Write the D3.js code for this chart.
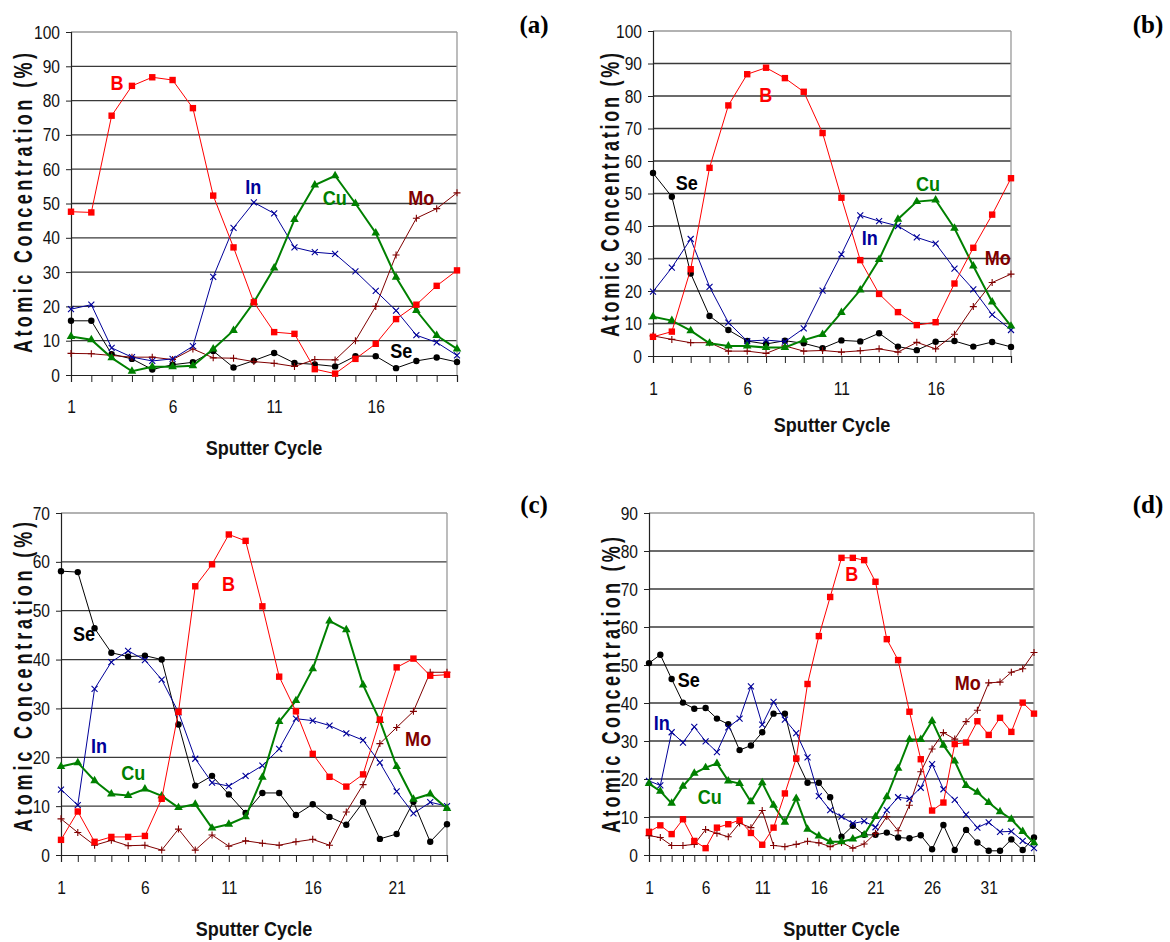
<!DOCTYPE html>
<html>
<head>
<meta charset="utf-8">
<script src="https://cdn.jsdelivr.net/npm/d3@7"></script>
<style>
  body { margin: 0; background: #fff; }
  svg { display: block; }
  .tick-label { font-family: "Liberation Sans", Arial, sans-serif; font-size: 19px; fill: #111; }
  .axis-title { font-family: "Liberation Sans", Arial, sans-serif; font-weight: bold; font-size: 21px; fill: #111; }
  .el-label { font-family: "Liberation Sans", Arial, sans-serif; font-weight: bold; font-size: 21px; }
  .panel-tag { font-family: "Liberation Serif", "Times New Roman", serif; font-weight: bold; font-size: 25px; }
</style>
</head>
<body>
<div id="chart"></div>
<script>
// ---- data (atomic %) per sputter cycle ----
// panel (a)
const a_B  = [47.6,47.4,75.6,84.3,86.8,86.0,77.8,52.3,37.2,21.2,12.5,12.0,1.7,0.4,4.7,9.1,16.3,20.5,26.0,30.5];
const a_In = [19.2,20.5,7.9,5.2,4.1,4.7,8.4,28.6,42.9,50.3,47.1,37.2,35.8,35.3,30.2,24.5,18.8,11.6,9.5,5.7];
const a_Cu = [11.2,10.3,5.0,1.1,2.4,2.4,2.7,7.6,13.0,21.2,31.2,45.3,55.4,58.1,50.0,41.4,28.5,18.8,11.5,7.6];
const a_Se = [15.8,15.8,6.1,4.7,1.6,3.0,3.7,7.0,2.2,4.2,6.4,3.5,3.1,2.5,5.5,5.5,2.0,4.1,5.1,3.8];
const a_Mo = [6.3,6.2,5.7,5.2,5.2,4.5,7.6,5.0,4.9,3.9,3.4,2.5,4.5,4.4,10.0,20.0,35.0,45.7,48.5,53.1];
// panel (b)
const b_B  = [5.9,7.5,26.7,57.9,77.1,86.7,88.7,85.5,81.3,68.6,48.7,29.5,19.1,13.5,9.5,10.4,22.3,33.3,43.5,54.7];
const b_In = [19.8,27.2,36.0,21.3,10.3,4.6,4.9,4.4,8.5,20.1,31.3,43.3,41.5,40.0,36.5,34.6,26.9,20.5,12.7,8.0];
const b_Cu = [12.1,10.9,7.8,3.9,3.1,3.1,2.6,2.6,4.9,6.6,13.4,20.3,29.7,42.1,47.5,48.0,39.3,27.7,16.6,9.2];
const b_Se = [56.3,49.0,25.4,12.3,8.0,4.6,3.7,4.7,3.9,2.4,4.8,4.5,7.0,2.9,1.8,4.4,4.6,2.9,4.3,2.8];
const b_Mo = [6.2,5.1,4.1,4.1,1.5,1.5,0.8,3.1,1.5,1.7,1.2,1.6,2.2,1.2,4.2,2.2,6.7,15.2,22.6,25.2];
// panel (c)
const c_B  = [3.1,8.9,2.7,3.7,3.7,3.9,11.5,29.3,55.0,59.5,65.6,64.3,50.9,36.5,29.4,20.7,16.0,14.0,16.5,27.7,38.4,40.2,36.7,36.9];
const c_In = [13.4,10.2,34.0,39.5,41.8,39.9,35.9,29.2,19.7,14.8,14.1,16.2,18.3,21.7,27.9,27.5,26.5,24.9,23.5,18.9,13.0,8.5,10.8,10.0];
const c_Cu = [18.1,18.9,15.2,12.5,12.2,13.5,12.1,9.7,10.4,5.5,6.3,7.8,15.9,27.3,31.6,38.1,47.9,46.1,34.8,27.5,18.1,11.4,12.5,9.5];
const c_Se = [58.1,57.9,46.4,41.4,40.6,40.8,40.0,26.7,14.2,16.2,12.4,8.6,12.7,12.7,8.2,10.4,7.8,6.2,10.8,3.3,4.3,10.9,2.7,6.3];
const c_Mo = [7.4,4.6,2.0,3.0,1.9,2.0,1.0,5.3,1.0,4.1,1.8,2.9,2.4,2.0,2.7,3.2,2.0,8.8,14.4,22.8,26.1,29.4,37.4,37.4];
// panel (d)
const d_B  = [6.1,7.8,5.5,9.4,3.7,1.8,7.2,8.1,9.2,5.8,2.7,7.2,16.2,25.4,45.0,57.6,67.9,78.2,78.2,77.6,71.9,56.8,51.3,37.7,25.2,11.7,13.8,29.2,29.6,35.2,31.6,36.1,32.4,40.1,37.2];
const d_In = [19.5,18.3,32.3,29.6,33.7,29.9,27.1,33.6,35.9,44.4,34.3,40.3,35.6,32.1,25.7,15.5,11.8,10.1,8.3,8.9,7.3,11.8,15.2,14.8,17.7,23.9,17.3,14.5,10.6,7.2,8.6,6.1,6.2,3.7,1.8];
const d_Cu = [18.8,16.8,13.6,18.1,21.5,23.0,24.1,19.5,18.8,14.0,19.0,13.1,8.6,14.9,6.8,5.0,3.5,3.5,4.2,5.3,10.1,15.3,22.8,30.4,30.4,35.3,28.9,24.7,18.3,16.5,13.8,11.4,9.4,6.2,3.2];
const d_Se = [50.5,52.7,46.3,40.1,38.5,38.7,35.9,34.4,27.6,28.8,32.3,37.2,37.2,25.3,19.0,19.0,15.2,4.8,7.7,5.3,5.3,5.9,4.6,4.4,5.2,1.5,7.9,1.3,6.6,3.3,1.1,1.1,4.1,1.3,4.6];
const d_Mo = [5.1,4.6,2.5,2.5,2.8,6.7,5.7,4.8,8.4,7.2,11.7,2.5,2.2,2.8,3.6,3.2,2.2,3.3,1.8,2.9,5.7,10.1,6.4,13.1,21.9,27.9,32.2,30.5,35.1,38.1,45.3,45.5,48.1,49.0,53.3];

const yMaxA = 100, yMaxB = 100, yMaxC = 70, yMaxD = 90;
const xTickEvery = 5;
const narrow = 0.82;   // fake Arial Narrow

// element styles
const elements = {
  B:  {color: "#ff0000", marker: "square",   width: 1},
  In: {color: "#000099", marker: "x",        width: 1},
  Cu: {color: "#008000", marker: "triangle", width: 2},
  Se: {color: "#000000", marker: "circle",   width: 1},
  Mo: {color: "#800000", marker: "plus",     width: 1}
};

// panels: plot box in pixels, labels in data units [cycle, %]
const panels = [
  {tag: "(a)", tagX: 534, tagY: 25, box: {l: 71, r: 457, t: 32, b: 375}, yMax: yMaxA,
   yTitle: {x: 32, y: 203, len: 300}, tickDy: 25, xTitleDy: 80,
   series: {Se: a_Se, Mo: a_Mo, In: a_In, Cu: a_Cu, B: a_B},
   labels: {B: [3.27, 85.2], In: [9.97, 54.9], Cu: [13.98, 51.7], Mo: [18.24, 51.7], Se: [17.26, 7.1]}},
  {tag: "(b)", tagX: 1148, tagY: 25, box: {l: 653, r: 1011, t: 31, b: 356}, yMax: yMaxB,
   yTitle: {x: 619, y: 195, len: 284}, tickDy: 26, xTitleDy: 76,
   series: {Se: b_Se, Mo: b_Mo, In: b_In, Cu: b_Cu, B: b_B},
   labels: {Se: [2.79, 53.5], B: [6.99, 80.6], Cu: [15.6, 53.2], In: [12.5, 36.6], Mo: [19.3, 30.2]}},
  {tag: "(c)", tagX: 534, tagY: 505, box: {l: 61, r: 447, t: 513, b: 855}, yMax: yMaxC,
   yTitle: {x: 32, y: 677, len: 310}, tickDy: 26, xTitleDy: 81,
   series: {Se: c_Se, Mo: c_Mo, In: c_In, Cu: c_Cu, B: c_B},
   labels: {Se: [2.37, 45.4], In: [3.27, 22.5], Cu: [5.3, 16.8], B: [10.98, 55.6], Mo: [22.28, 23.9]}},
  {tag: "(d)", tagX: 1148, tagY: 505, box: {l: 649, r: 1034, t: 513, b: 855}, yMax: yMaxD,
   yTitle: {x: 620, y: 685, len: 296}, tickDy: 26, xTitleDy: 81,
   series: {Se: d_Se, Mo: d_Mo, In: d_In, Cu: d_Cu, B: d_B},
   labels: {Se: [4.51, 46.1], In: [2.12, 35.0], Cu: [6.36, 15.3], B: [18.9, 74.2], Mo: [29.15, 45.3]}}
];

const svg = d3.select("#chart").append("svg")
  .attr("width", 1170)
  .attr("height", 942);

function drawMarker(g, type, color) {
  if (type === "circle") {
    g.append("circle").attr("r", 3.2).attr("fill", color);
  } else if (type === "square") {
    g.append("rect").attr("x", -3.2).attr("y", -3.2).attr("width", 6.4).attr("height", 6.4).attr("fill", color);
  } else if (type === "triangle") {
    g.append("path").attr("d", d3.symbol(d3.symbolTriangle, 32)()).attr("fill", color);
  } else if (type === "x") {
    g.append("path").attr("d", "M-3,-3L3,3M-3,3L3,-3").attr("stroke", color).attr("stroke-width", 1.1);
  } else if (type === "plus") {
    g.append("path").attr("d", "M-3.5,0L3.5,0M0,-3.5L0,3.5").attr("stroke", color).attr("stroke-width", 1.1);
  }
}

panels.forEach(function(p) {
  const n = p.series.B.length;
  const cycles = d3.range(1, n + 1);

  const x = d3.scaleLinear().domain([1, n]).range([p.box.l, p.box.r]);
  const y = d3.scaleLinear().domain([0, p.yMax]).range([p.box.b, p.box.t]);

  const g = svg.append("g");

  // horizontal gridlines
  const yTicks = d3.range(10, p.yMax + 1, 10);
  g.selectAll(".grid").data(yTicks).enter().append("line")
    .attr("x1", p.box.l).attr("x2", p.box.r)
    .attr("y1", d => y(d)).attr("y2", d => y(d))
    .attr("stroke", d => d === p.yMax ? "#999" : "#3a3a3a")
    .attr("stroke-width", 1.3);

  // right border
  g.append("line")
    .attr("x1", p.box.r).attr("x2", p.box.r)
    .attr("y1", p.box.t).attr("y2", p.box.b)
    .attr("stroke", "#999").attr("stroke-width", 1.3);

  // y axis
  const yAxis = g.append("g")
    .attr("transform", `translate(${p.box.l},0)`)
    .call(d3.axisLeft(y).tickValues(d3.range(0, p.yMax + 1, 10)).tickSize(5).tickPadding(6));
  yAxis.select(".domain").attr("stroke", "#222").attr("stroke-width", 1.2);
  yAxis.selectAll(".tick line").attr("stroke", "#222");
  yAxis.selectAll("text").attr("class", "tick-label").attr("font-family", null).attr("font-size", null)
    .attr("x", -11 / narrow).attr("transform", `scale(${narrow},1)`);

  // x axis: tick at every cycle, label every 5
  const xAxis = g.append("g")
    .attr("transform", `translate(0,${p.box.b})`)
    .call(d3.axisBottom(x).tickValues(cycles).tickSize(7)
      .tickFormat(d => (d - 1) % xTickEvery === 0 ? d : ""));
  xAxis.select(".domain").attr("stroke", "#222").attr("stroke-width", 1.2);
  xAxis.selectAll(".tick line").attr("stroke", "#222");
  xAxis.selectAll("text").attr("class", "tick-label").attr("font-family", null).attr("font-size", null)
    .attr("y", p.tickDy).attr("transform", `scale(${narrow},1)`);

  // series lines + markers
  Object.keys(p.series).forEach(function(key) {
    const st = elements[key];
    const vals = p.series[key];
    const line = d3.line().x((d, i) => x(i + 1)).y(d => y(d));
    g.append("path").datum(vals)
      .attr("fill", "none")
      .attr("stroke", st.color)
      .attr("stroke-width", st.width)
      .attr("d", line);
    g.selectAll(".m-" + key).data(vals).enter().append("g")
      .attr("transform", (d, i) => `translate(${x(i + 1)},${y(d)})`)
      .each(function() { drawMarker(d3.select(this), st.marker, st.color); });
  });

  // element labels
  Object.keys(p.labels).forEach(function(key) {
    const pos = p.labels[key];
    g.append("text").attr("class", "el-label")
      .attr("transform", `translate(${x(pos[0])},${y(pos[1])}) scale(0.86,1)`)
      .attr("text-anchor", "middle").attr("dominant-baseline", "central")
      .attr("fill", elements[key].color)
      .text(key);
  });

  // axis titles
  g.append("text").attr("class", "axis-title")
    .attr("text-anchor", "middle")
    .attr("transform", `translate(${(p.box.l + p.box.r) / 2},${p.box.b + p.xTitleDy}) scale(0.86,1)`)
    .text("Sputter Cycle");

  // spaced-out vertical title
  g.append("text").attr("class", "axis-title")
    .attr("text-anchor", "middle")
    .attr("transform", `translate(${p.yTitle.x},${p.yTitle.y}) rotate(-90) scale(0.72,1)`)
    .attr("textLength", p.yTitle.len / 0.72)
    .attr("lengthAdjust", "spacing")
    .style("font-size", "25px")
    .text("Atomic Concentration (%)");

  // panel tag
  g.append("text").attr("class", "panel-tag")
    .attr("x", p.tagX).attr("y", p.tagY + 8)
    .attr("text-anchor", "middle")
    .text(p.tag);
});
</script>
</body>
</html>
